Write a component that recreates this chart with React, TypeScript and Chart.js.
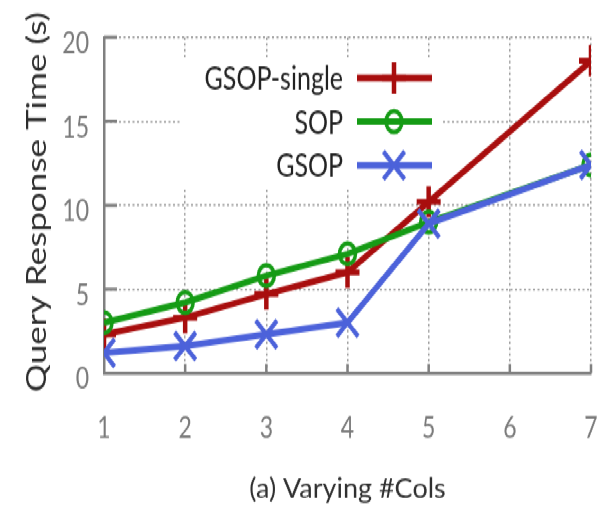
import React, { useEffect, useRef } from "react";
import { Chart, registerables } from "chart.js";

Chart.register(...registerables);

// ---- data ----
const xValues = [1, 2, 3, 4, 5, 7];
const gsopSingle = [2.3, 3.3, 4.7, 6.0, 10.2, 18.6];
const sop = [3.0, 4.2, 5.8, 7.1, 9.0, 12.4];
const gsop = [1.2, 1.6, 2.3, 3.0, 8.9, 12.4];
const seriesNames = ["GSOP-single", "SOP", "GSOP"];
const yTicks = [0, 5, 10, 15, 20];
const xTicks = [1, 2, 3, 4, 5, 6, 7];
const yTitle = "Query Response Time (s)";
const xTitle = "(a) Varying #Cols";

// ---- styles ----
const RED = "#a80e0e";
const GREEN = "#159b15";
const BLUE = "#4c62da";
const FONT = "Lato, 'Open Sans', sans-serif";
const W = 606;
const FULL_H = 516;
const H = 397;
const SY = FULL_H / H;
const LINE_W = 5;

type Marker = "cross" | "circle" | "crossRot";

function drawMarker(ctx: CanvasRenderingContext2D, style: Marker, x: number, y: number, r: number, color: string, lw: number) {
  ctx.save();
  ctx.strokeStyle = color;
  ctx.lineWidth = lw;
  ctx.beginPath();
  if (style === "cross") {
    ctx.moveTo(x - r, y);
    ctx.lineTo(x + r, y);
    ctx.moveTo(x, y - r);
    ctx.lineTo(x, y + r);
  } else if (style === "crossRot") {
    const o = r * Math.SQRT1_2;
    ctx.moveTo(x - o, y - o);
    ctx.lineTo(x + o, y + o);
    ctx.moveTo(x - o, y + o);
    ctx.lineTo(x + o, y - o);
  } else {
    ctx.arc(x, y, r, 0, Math.PI * 2);
  }
  ctx.stroke();
  ctx.restore();
}

export default function App() {
  const ref = useRef<HTMLCanvasElement>(null);

  useEffect(() => {
    const canvas = ref.current!;
    const pts = (ys: number[]) => xValues.map((x, i) => ({ x, y: ys[i] }));

    const legendItems: { label: string; color: string; style: Marker; r: number; lw: number }[] = [
      { label: seriesNames[0], color: RED, style: "cross", r: 12, lw: 4.5 },
      { label: seriesNames[1], color: GREEN, style: "circle", r: 8, lw: 3.5 },
      { label: seriesNames[2], color: BLUE, style: "crossRot", r: 15, lw: 4 },
    ];

    const boxPlugin = {
      id: "legendBox",
      beforeDatasetsDraw(chart: any) {
        const ctx: CanvasRenderingContext2D = chart.ctx;
        const { left, bottom } = chart.chartArea;
        ctx.save();
        ctx.fillStyle = "#ffffff";
        ctx.fillRect(182, 44, 260, 102);
        // inward tick stubs
        ctx.strokeStyle = "#808080";
        ctx.lineWidth = 2.5;
        const ys = chart.scales.y;
        const xs = chart.scales.x;
        ctx.beginPath();
        yTicks.forEach((v) => {
          if (v === 0) return;
          const py = ys.getPixelForValue(v);
          ctx.moveTo(left, py);
          ctx.lineTo(left + 13, py);
        });
        xTicks.forEach((v) => {
          if (v === 1) return;
          const px = xs.getPixelForValue(v);
          ctx.moveTo(px, bottom);
          ctx.lineTo(px, bottom - 7);
        });
        ctx.stroke();
        ctx.restore();
      },
      afterDatasetsDraw(chart: any) {
        const ctx: CanvasRenderingContext2D = chart.ctx;
        const rowY = [60, 93.6, 127.2];
        ctx.save();
        legendItems.forEach((it, i) => {
          const y = rowY[i];
          ctx.fillStyle = "#222222";
          ctx.font = `25px ${FONT}`;
          ctx.textAlign = "right";
          ctx.textBaseline = "middle";
          ctx.fillText(it.label, 343, y + 1);
          ctx.strokeStyle = it.color;
          ctx.lineWidth = LINE_W;
          ctx.beginPath();
          ctx.moveTo(357, y);
          ctx.lineTo(432, y);
          ctx.stroke();
          drawMarker(ctx, it.style, 394, y, it.r, it.color, it.lw);
        });
        ctx.restore();
      },
      afterDraw(chart: any) {
        const ctx: CanvasRenderingContext2D = chart.ctx;
        const { left, right } = chart.chartArea;
        // y-axis title
        ctx.save();
        ctx.translate(37, 155.5);
        ctx.rotate(-Math.PI / 2);
        ctx.fillStyle = "#2c2c2c";
        ctx.font = `27px ${FONT}`;
        ctx.textAlign = "center";
        ctx.textBaseline = "middle";
        ctx.fillText(yTitle, 0, 0);
        ctx.restore();
        // caption, drawn without the vertical stretch
        ctx.save();
        ctx.scale(1, 1 / SY);
        ctx.fillStyle = "#303030";
        ctx.font = `27px ${FONT}`;
        ctx.textAlign = "center";
        ctx.textBaseline = "middle";
        ctx.fillText(xTitle, (left + right) / 2, 489);
        ctx.restore();
      },
    };

    const chart = new Chart(canvas, {
      type: "line",
      data: {
        datasets: [
          {
            label: seriesNames[0],
            data: pts(gsopSingle),
            borderColor: RED,
            backgroundColor: RED,
            borderWidth: LINE_W,
            pointStyle: "cross",
            pointRadius: 12,
            pointBorderWidth: 4.5,
            pointBorderColor: RED,
            order: 3,
          },
          {
            label: seriesNames[1],
            data: pts(sop),
            borderColor: GREEN,
            backgroundColor: "rgba(0,0,0,0)",
            borderWidth: LINE_W,
            pointStyle: "circle",
            pointRadius: 8,
            pointBorderWidth: 3.5,
            pointBorderColor: GREEN,
            pointBackgroundColor: "rgba(0,0,0,0)",
            order: 2,
          },
          {
            label: seriesNames[2],
            data: pts(gsop),
            borderColor: BLUE,
            backgroundColor: BLUE,
            borderWidth: LINE_W,
            pointStyle: "crossRot",
            pointRadius: 15,
            pointBorderWidth: 4,
            pointBorderColor: BLUE,
            order: 1,
          },
        ],
      },
      options: {
        animation: false,
        responsive: false,
        devicePixelRatio: 1,
        layout: { autoPadding: false, padding: { top: 28.5, right: 15, left: 0, bottom: 0 } },
        plugins: { legend: { display: false }, tooltip: { enabled: false }, title: { display: false } },
        elements: { line: { tension: 0 } },
        scales: {
          x: {
            type: "linear",
            min: 1,
            max: 7,
            afterFit: (s: any) => {
              s.height = H - 287;
              s.paddingLeft = 0;
              s.paddingRight = 0;
            },
            afterBuildTicks: (s: any) => {
              s.ticks = xTicks.map((v) => ({ value: v }));
            },
            ticks: {
              color: "#7a7a7a",
              font: { family: FONT, size: 23 },
              padding: 0,
              maxRotation: 0,
              autoSkip: false,
            },
            grid: {
              color: (c: any) => (c.tick && c.tick.value === 1 ? "rgba(0,0,0,0)" : "#9a9a9a"),
              lineWidth: 1.5,
              drawTicks: true,
              tickLength: 29,
              tickColor: "rgba(0,0,0,0)",
            },
            border: { display: true, color: "#808080", width: 2.5, dash: [2, 2.5] },
            title: { display: false },
          },
          y: {
            min: 0,
            max: 20,
            afterFit: (s: any) => {
              s.width = 104;
            },
            afterBuildTicks: (s: any) => {
              s.ticks = yTicks.map((v) => ({ value: v }));
            },
            ticks: {
              color: "#7a7a7a",
              font: { family: FONT, size: 23 },
              padding: 15,
              labelOffset: 5,
            },
            grid: {
              color: (c: any) => (c.tick && c.tick.value === 0 ? "rgba(0,0,0,0)" : "#9a9a9a"),
              lineWidth: 1.5,
              drawTicks: false,
            },
            border: { display: true, color: "#808080", width: 2.5, dash: [2, 2.5] },
            title: { display: false },
          },
        },
      },
      plugins: [boxPlugin],
    } as any);

    return () => chart.destroy();
  }, []);

  return (
    <div
      style={{
        position: "absolute",
        left: 0,
        top: 0,
        width: W,
        height: H,
        transform: `scaleY(${SY})`,
        transformOrigin: "0 0",
        background: "#ffffff",
      }}
    >
      <canvas ref={ref} width={W} height={H} style={{ display: "block" }} />
    </div>
  );
}
